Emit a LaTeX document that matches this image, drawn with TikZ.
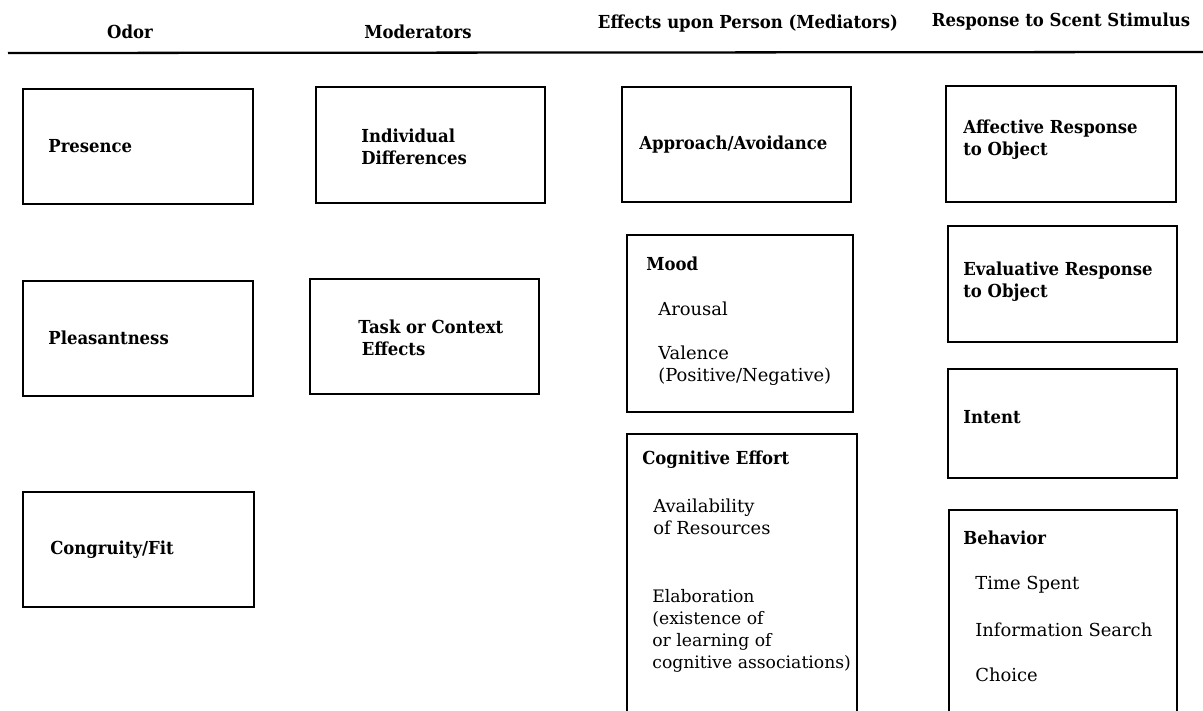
\documentclass[tikz,border=0pt]{standalone}
\usepackage{fontspec}
\setmainfont{DejaVu Serif}[BoldFeatures={FakeStretch=0.92}]
\begin{document}
\begin{tikzpicture}[x=0.02cm, y=-0.02cm,
    box/.style n args={2}{draw, line width=1pt, minimum width=#1*0.02cm, minimum height=#2*0.02cm, inner sep=0pt},
    head/.style={inner sep=0pt, font=\fontsize{10.2}{12.5}\selectfont\bfseries},
    lab/.style={anchor=west, align=left, inner sep=0pt, font=\fontsize{10.2}{12.5}\selectfont\bfseries},
    item/.style={anchor=west, align=left, inner sep=0pt, font=\fontsize{10.2}{12.5}\selectfont}
]
    \useasboundingbox (0,0) rectangle (1203,710);
    \clip (0,0) rectangle (1203,710);

    % column heads
    \node[head] (h-odor) at (130,32) {Odor};
    \node[head] (h-mod) at (418,32) {Moderators};
    \node[head] (h-med) at (748,24) {Effects upon Person (Mediators)};
    \node[head] (h-resp) at (1061,22) {Response to Scent Stimulus};
    \coordinate (rule-l) at (8,53);
    \coordinate (rule-r) at (1203,52);
    \draw[line width=1.3pt] (rule-l) -- (rule-r);

    % Odor
    \node[box={230}{115}] (presence) at (138,146.5) {};
    \node[lab] (presence-t) at (48,146) {Presence};
    \node[box={230}{115}] (pleasant) at (138,338.5) {};
    \node[lab] (pleasant-t) at (48,338) {Pleasantness};
    \node[box={231}{115}] (congruity) at (138.5,549.5) {};
    \node[lab] (congruity-t) at (50,550) {Congruity/Fit};

    % Moderators
    \node[box={229}{116}] (indiv) at (430.5,145) {};
    \node[lab] (indiv-t) at (361,147) {Individual\\Differences};
    \node[box={229}{115}] (task) at (424.5,336.5) {};
    \node[lab] (task-t) at (358,338) {Task or Context\\\hspace*{2pt}Effects};

    % Mediators
    \node[box={229}{115}] (approach) at (736.5,144.5) {};
    \node[lab] (approach-t) at (639,145) {Approach/Avoidance};
    \node[box={226}{177}] (mood) at (740,323.5) {};
    \node[lab] (mood-t) at (646,264) {Mood};
    \node[item] (arousal) at (658,309) {Arousal};
    \node[item] (valence) at (658,366) {Valence\\(Positive/Negative)};
    \node[box={230}{306}] (effort) at (742,587) {};
    \node[lab] (effort-t) at (642,460) {Cognitive Effort};
    \node[item] (avail) at (653,517) {Availability\\of Resources};
    \node[item, font=\fontsize{9.8}{12.5}\selectfont] (elab) at (652,631) {Elaboration\\(existence of\\or learning of\\cognitive associations)};

    % Response
    \node[box={230}{116}] (affect) at (1061,144) {};
    \node[lab] (affect-t) at (963,140) {Affective Response\\to Object};
    \node[box={229}{116}] (evalu) at (1062.5,284) {};
    \node[lab] (evalu-t) at (963,282) {Evaluative Response\\to Object};
    \node[box={229}{109}] (intent) at (1062.5,423.5) {};
    \node[lab] (intent-t) at (963,417) {Intent};
    \node[box={228}{230}] (behav) at (1063,625) {};
    \node[lab] (behav-t) at (963,538) {Behavior};
    \node[item] (time) at (975,585) {Time Spent};
    \node[item] (search) at (975,630) {Information Search};
    \node[item] (choice) at (975,675) {Choice};
\end{tikzpicture}
\end{document}
